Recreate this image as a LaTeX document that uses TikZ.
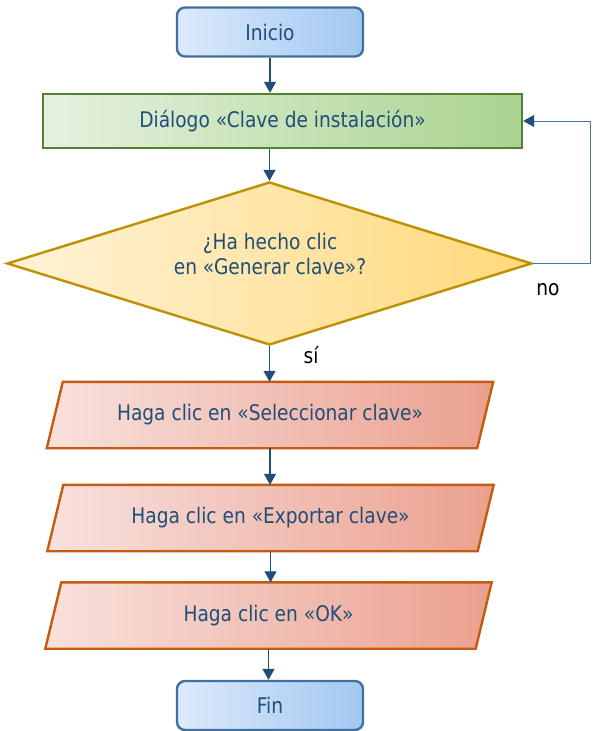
\documentclass[tikz,border=0pt]{standalone}
\usepackage{fontspec}
\setmainfont[FakeStretch=0.865]{DejaVu Sans}
\usetikzlibrary{arrows.meta,shapes.geometric,backgrounds}
\definecolor{txt}{HTML}{1F4E79}
\definecolor{loopc}{HTML}{4A76A8}
\definecolor{termb}{HTML}{41719C}
\definecolor{terml}{HTML}{DCEAFB}
\definecolor{termr}{HTML}{A3C7F2}
\definecolor{procb}{HTML}{548235}
\definecolor{procl}{HTML}{E6F1DF}
\definecolor{procr}{HTML}{A9D48F}
\definecolor{decb}{HTML}{BF9000}
\definecolor{decl}{HTML}{FFF3D8}
\definecolor{decr}{HTML}{FFD97A}
\definecolor{iob}{HTML}{C55A11}
\definecolor{iol}{HTML}{F8E1DD}
\definecolor{ior}{HTML}{EBA08E}
\newcommand{\iopath}[1]{%
  \begin{scope}[on background layer]
    \shade[draw=iob,line width=2.4pt,left color=iol,right color=ior]
      ([xshift=8pt]#1.north west) -- ([xshift=8pt]#1.north east) --
      ([xshift=-8pt]#1.south east) -- ([xshift=-8pt]#1.south west) -- cycle;
  \end{scope}}
\begin{document}
\begin{tikzpicture}[x=1pt,y=-1pt,font=\fontsize{21.5}{31}\selectfont]
\tikzset{
  base/.style={text=txt,line width=2.4pt,inner sep=0pt},
  term/.style={base,rounded corners=8pt,draw=termb,left color=terml,right color=termr,minimum width=186pt,minimum height=49pt},
  proc/.style={base,draw=procb,left color=procl,right color=procr,minimum width=479pt,minimum height=54pt},
  dec/.style={base,diamond,aspect=3.2,draw=decb,left color=decl,right color=decr,minimum width=525pt,minimum height=163pt},
  dectext/.style={text=txt,inner sep=0pt,align=center,font=\fontsize{21.5}{25}\selectfont},
  io/.style={base,minimum width=428pt,minimum height=64pt},
  conn/.style={draw=txt,line width=1.2pt,-{Triangle[length=11pt,width=12pt]}},
  loopline/.style={draw=loopc,line width=1pt,-{Triangle[length=11pt,width=12pt,color=txt,fill=txt]}},
  lab/.style={text=black,inner sep=0pt}
}
\useasboundingbox (0,0) rectangle (592,731);
\node[term] (ini) at (270,32) {Inicio};
\node[proc] (dlg) at (282.5,121) {Diálogo «Clave de instalación»};
\node[dec] (dec) at (269.5,263.5) {};
\node[dectext] (dectxt) at (270,254) {¿Ha hecho clic\\en «Generar clave»?};
\node[io] (sel) at (270,415) {Haga clic en «Seleccionar clave»};
\iopath{sel}
\node[io] (ex) at (270.5,518) {Haga clic en «Exportar clave»};
\iopath{ex}
\node[io] (ok) at (268.5,615.5) {Haga clic en «OK»};
\iopath{ok}
\node[term] (fin) at (270,705.5) {Fin};
\node[lab] (no) at (548,290) {no};
\node[lab] (si) at (311,355) {sí};
\coordinate (lp) at (590.5,0);
\draw[conn] (ini.south) -- (ini.south |- dlg.north);
\draw[conn] (dlg.south -| dec.north) -- (dec.north);
\draw[conn] (dec.south) -- (dec.south |- sel.north);
\draw[conn] (sel.south) -- (sel.south |- ex.north);
\draw[conn] (ex.south) -- (ex.south |- ok.north);
\draw[conn] (ok.south) -- (ok.south |- fin.north);
\draw[loopline] (dec.east) -- (dec.east -| lp) |- (dlg.east);
\end{tikzpicture}
\end{document}
